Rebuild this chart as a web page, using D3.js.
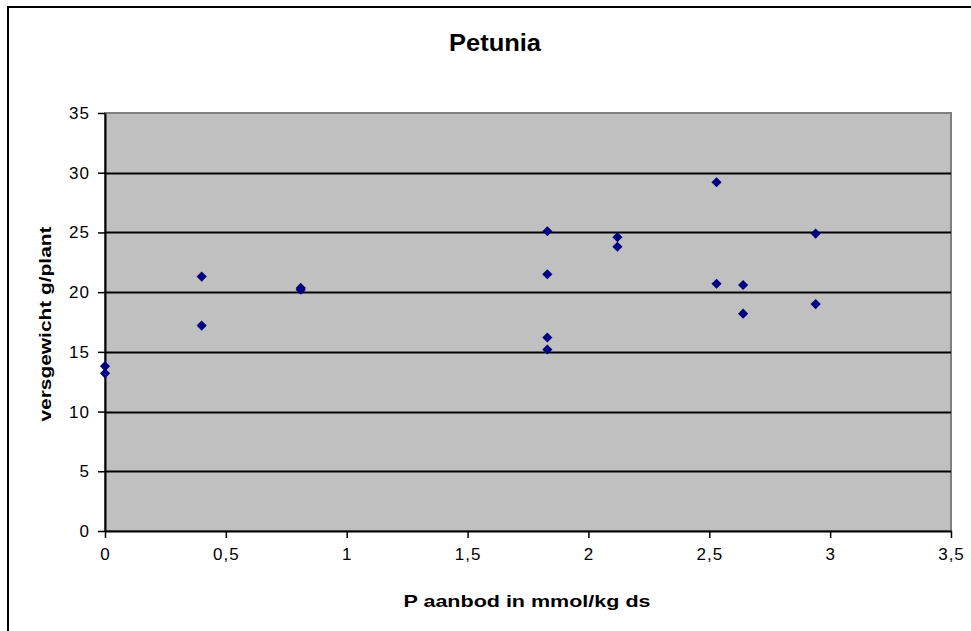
<!DOCTYPE html>
<html>
<head>
<meta charset="utf-8">
<script src="https://cdn.jsdelivr.net/npm/d3@7"></script>
<style>
  html, body { margin: 0; padding: 0; background: #fff; }
  svg { display: block; font-family: Arial, "Liberation Sans", sans-serif; }
</style>
</head>
<body>
<svg id="chart" width="971" height="631"></svg>
<script>
// P supply (mmol/kg ds) and fresh weight per plant (g)
const pSupply = [0, 0, 0.40, 0.40, 0.81, 0.81, 1.83, 1.83, 1.83, 1.83,
                 2.12, 2.12, 2.53, 2.53, 2.64, 2.64, 2.94, 2.94];
const freshWeight = [13.8, 13.2, 21.3, 17.2, 20.2, 20.35, 25.1, 21.5, 16.2, 15.2,
                     24.6, 23.8, 29.2, 20.7, 20.6, 18.2, 24.9, 19.0];
const xTicks = [0, 0.5, 1, 1.5, 2, 2.5, 3, 3.5];
const yTicks = [0, 5, 10, 15, 20, 25, 30, 35];
const chartTitle = "Petunia";
const xTitle = "P aanbod in mmol/kg ds";
const yTitle = "versgewicht g/plant";

const svg = d3.select("#chart");
const plot = { left: 105, right: 951, top: 113, bottom: 531 };

const x = d3.scaleLinear().domain([0, 3.5]).range([plot.left, plot.right]);
const y = d3.scaleLinear().domain([0, 35]).range([plot.bottom, plot.top]);
const fmt = d => String(d).replace(".", ",");

// outer chart frame
svg.append("rect")
  .attr("x", 8).attr("y", 7).attr("width", 975).attr("height", 640)
  .attr("fill", "#fff").attr("stroke", "#000").attr("stroke-width", 2);

// plot background
svg.append("rect")
  .attr("x", plot.left).attr("y", plot.top)
  .attr("width", plot.right - plot.left).attr("height", plot.bottom - plot.top)
  .attr("fill", "#c0c0c0").attr("stroke", "#808080").attr("stroke-width", 2);

// horizontal gridlines
svg.append("g").selectAll("line")
  .data(yTicks.filter(t => t > 0 && t < 35))
  .join("line")
  .attr("x1", plot.left).attr("x2", plot.right)
  .attr("y1", d => Math.round(y(d)) + 0.5).attr("y2", d => Math.round(y(d)) + 0.5)
  .attr("stroke", "#000").attr("stroke-width", 2);

// y axis
const yAxis = svg.append("g")
  .attr("transform", `translate(${plot.left},0)`)
  .call(d3.axisLeft(y).tickValues(yTicks).tickFormat(fmt).tickSize(7).tickSizeOuter(0).tickPadding(8));
yAxis.select(".domain").attr("stroke", "#000").attr("stroke-width", 2);
yAxis.selectAll(".tick line").attr("stroke", "#000").attr("stroke-width", 1.5);
yAxis.selectAll(".tick text")
  .attr("fill", "#000").style("font-size", "17px").style("letter-spacing", "1px");

// x axis
const xAxis = svg.append("g")
  .attr("transform", `translate(0,${plot.bottom})`)
  .call(d3.axisBottom(x).tickValues(xTicks).tickFormat(fmt).tickSize(7).tickSizeOuter(0).tickPadding(10));
xAxis.select(".domain").attr("stroke", "#000").attr("stroke-width", 2);
xAxis.selectAll(".tick line").attr("stroke", "#000").attr("stroke-width", 1.5);
xAxis.selectAll(".tick text")
  .attr("fill", "#000").style("font-size", "17px").style("letter-spacing", "1px");

// data points as diamonds
const diamond = d3.symbol().type(d3.symbolDiamond2).size(66);
svg.append("g").selectAll("path")
  .data(pSupply.map((p, i) => [p, freshWeight[i]]))
  .join("path")
  .attr("d", diamond)
  .attr("transform", d => `translate(${x(d[0])},${y(d[1])})`)
  .attr("fill", "#000080");

// titles
svg.append("text")
  .attr("x", 495).attr("y", 51)
  .attr("text-anchor", "middle")
  .attr("textLength", 92).attr("lengthAdjust", "spacingAndGlyphs")
  .style("font-size", "24px").style("font-weight", "bold")
  .text(chartTitle);

svg.append("text")
  .attr("x", 527).attr("y", 607)
  .attr("text-anchor", "middle")
  .attr("textLength", 247).attr("lengthAdjust", "spacingAndGlyphs")
  .style("font-size", "17px").style("font-weight", "bold")
  .text(xTitle);

svg.append("text")
  .attr("transform", "translate(51,324) rotate(-90)")
  .attr("text-anchor", "middle")
  .attr("textLength", 195).attr("lengthAdjust", "spacingAndGlyphs")
  .style("font-size", "17px").style("font-weight", "bold")
  .text(yTitle);
</script>
</body>
</html>
